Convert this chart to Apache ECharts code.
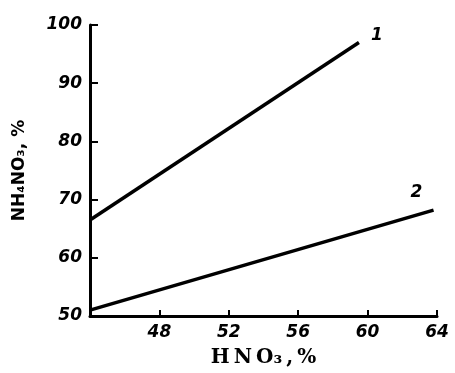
<!DOCTYPE html>
<html>
<head>
<meta charset="utf-8">
<script src="https://cdn.jsdelivr.net/npm/echarts@6/dist/echarts.min.js"></script>
<style>
  html, body { margin: 0; padding: 0; background: #fff; }
  #chart { width: 455px; height: 373px; }
</style>
</head>
<body>
<div id="chart"></div>
<script>
// HNO3 concentration (%) vs NH4NO3 content (%)
const curve1 = [[44, 66.5], [59.5, 97]];
const curve2 = [[44, 51], [63.8, 68.2]];
const curveNames = ['1', '2'];
const xTicks = [44, 48, 52, 56, 60, 64];
const yTicks = [50, 60, 70, 80, 90, 100];

const chart = echarts.init(document.getElementById('chart'));

const labelFont = {
    color: '#000',
    fontFamily: 'DejaVu Sans',
    fontWeight: 'bold',
    fontStyle: 'italic',
    fontSize: 17
};

const makeSeries = (name, data, offset) => ({
    name: name,
    type: 'line',
    data: data,
    symbol: 'none',
    lineStyle: { color: '#000', width: 3.5 },
    endLabel: {
        show: true,
        formatter: name,
        offset: offset,
        ...labelFont,
        fontSize: 17
    },
    animation: false
});

chart.setOption({
    backgroundColor: '#fff',
    grid: { left: 90, right: 18, top: 25, bottom: 57, containLabel: false, outerBoundsMode: 'none' },
    xAxis: {
        type: 'value',
        min: xTicks[0],
        max: xTicks[xTicks.length - 1],
        interval: 4,
        name: 'H\u2009N\u2009O₃\u2009,\u2009%',
        nameLocation: 'middle',
        nameGap: 32,
        nameTextStyle: {
            color: '#000',
            fontFamily: 'DejaVu Serif',
            fontWeight: 'bold',
            fontSize: 20
        },
        axisLine: { lineStyle: { color: '#000', width: 3 } },
        axisTick: { inside: true, length: 6, lineStyle: { color: '#000', width: 2 } },
        axisLabel: {
            ...labelFont,
            margin: 8,
            formatter: v => (v === xTicks[0] ? '' : String(v))
        },
        splitLine: { show: false }
    },
    yAxis: {
        type: 'value',
        min: yTicks[0],
        max: yTicks[yTicks.length - 1],
        interval: 10,
        name: 'NH₄NO₃, %',
        nameLocation: 'middle',
        nameGap: 62,
        nameTextStyle: {
            color: '#000',
            fontFamily: 'DejaVu Sans',
            fontWeight: 'bold',
            fontSize: 17
        },
        axisLine: { show: true, lineStyle: { color: '#000', width: 3 } },
        axisTick: { show: true, inside: true, length: 8, lineStyle: { color: '#000', width: 2 } },
        axisLabel: { ...labelFont, margin: 8 },
        splitLine: { show: false }
    },
    series: [
        makeSeries(curveNames[0], curve1, [4, -7]),
        makeSeries(curveNames[1], curve2, [-31, -17])
    ]
});
</script>
</body>
</html>
